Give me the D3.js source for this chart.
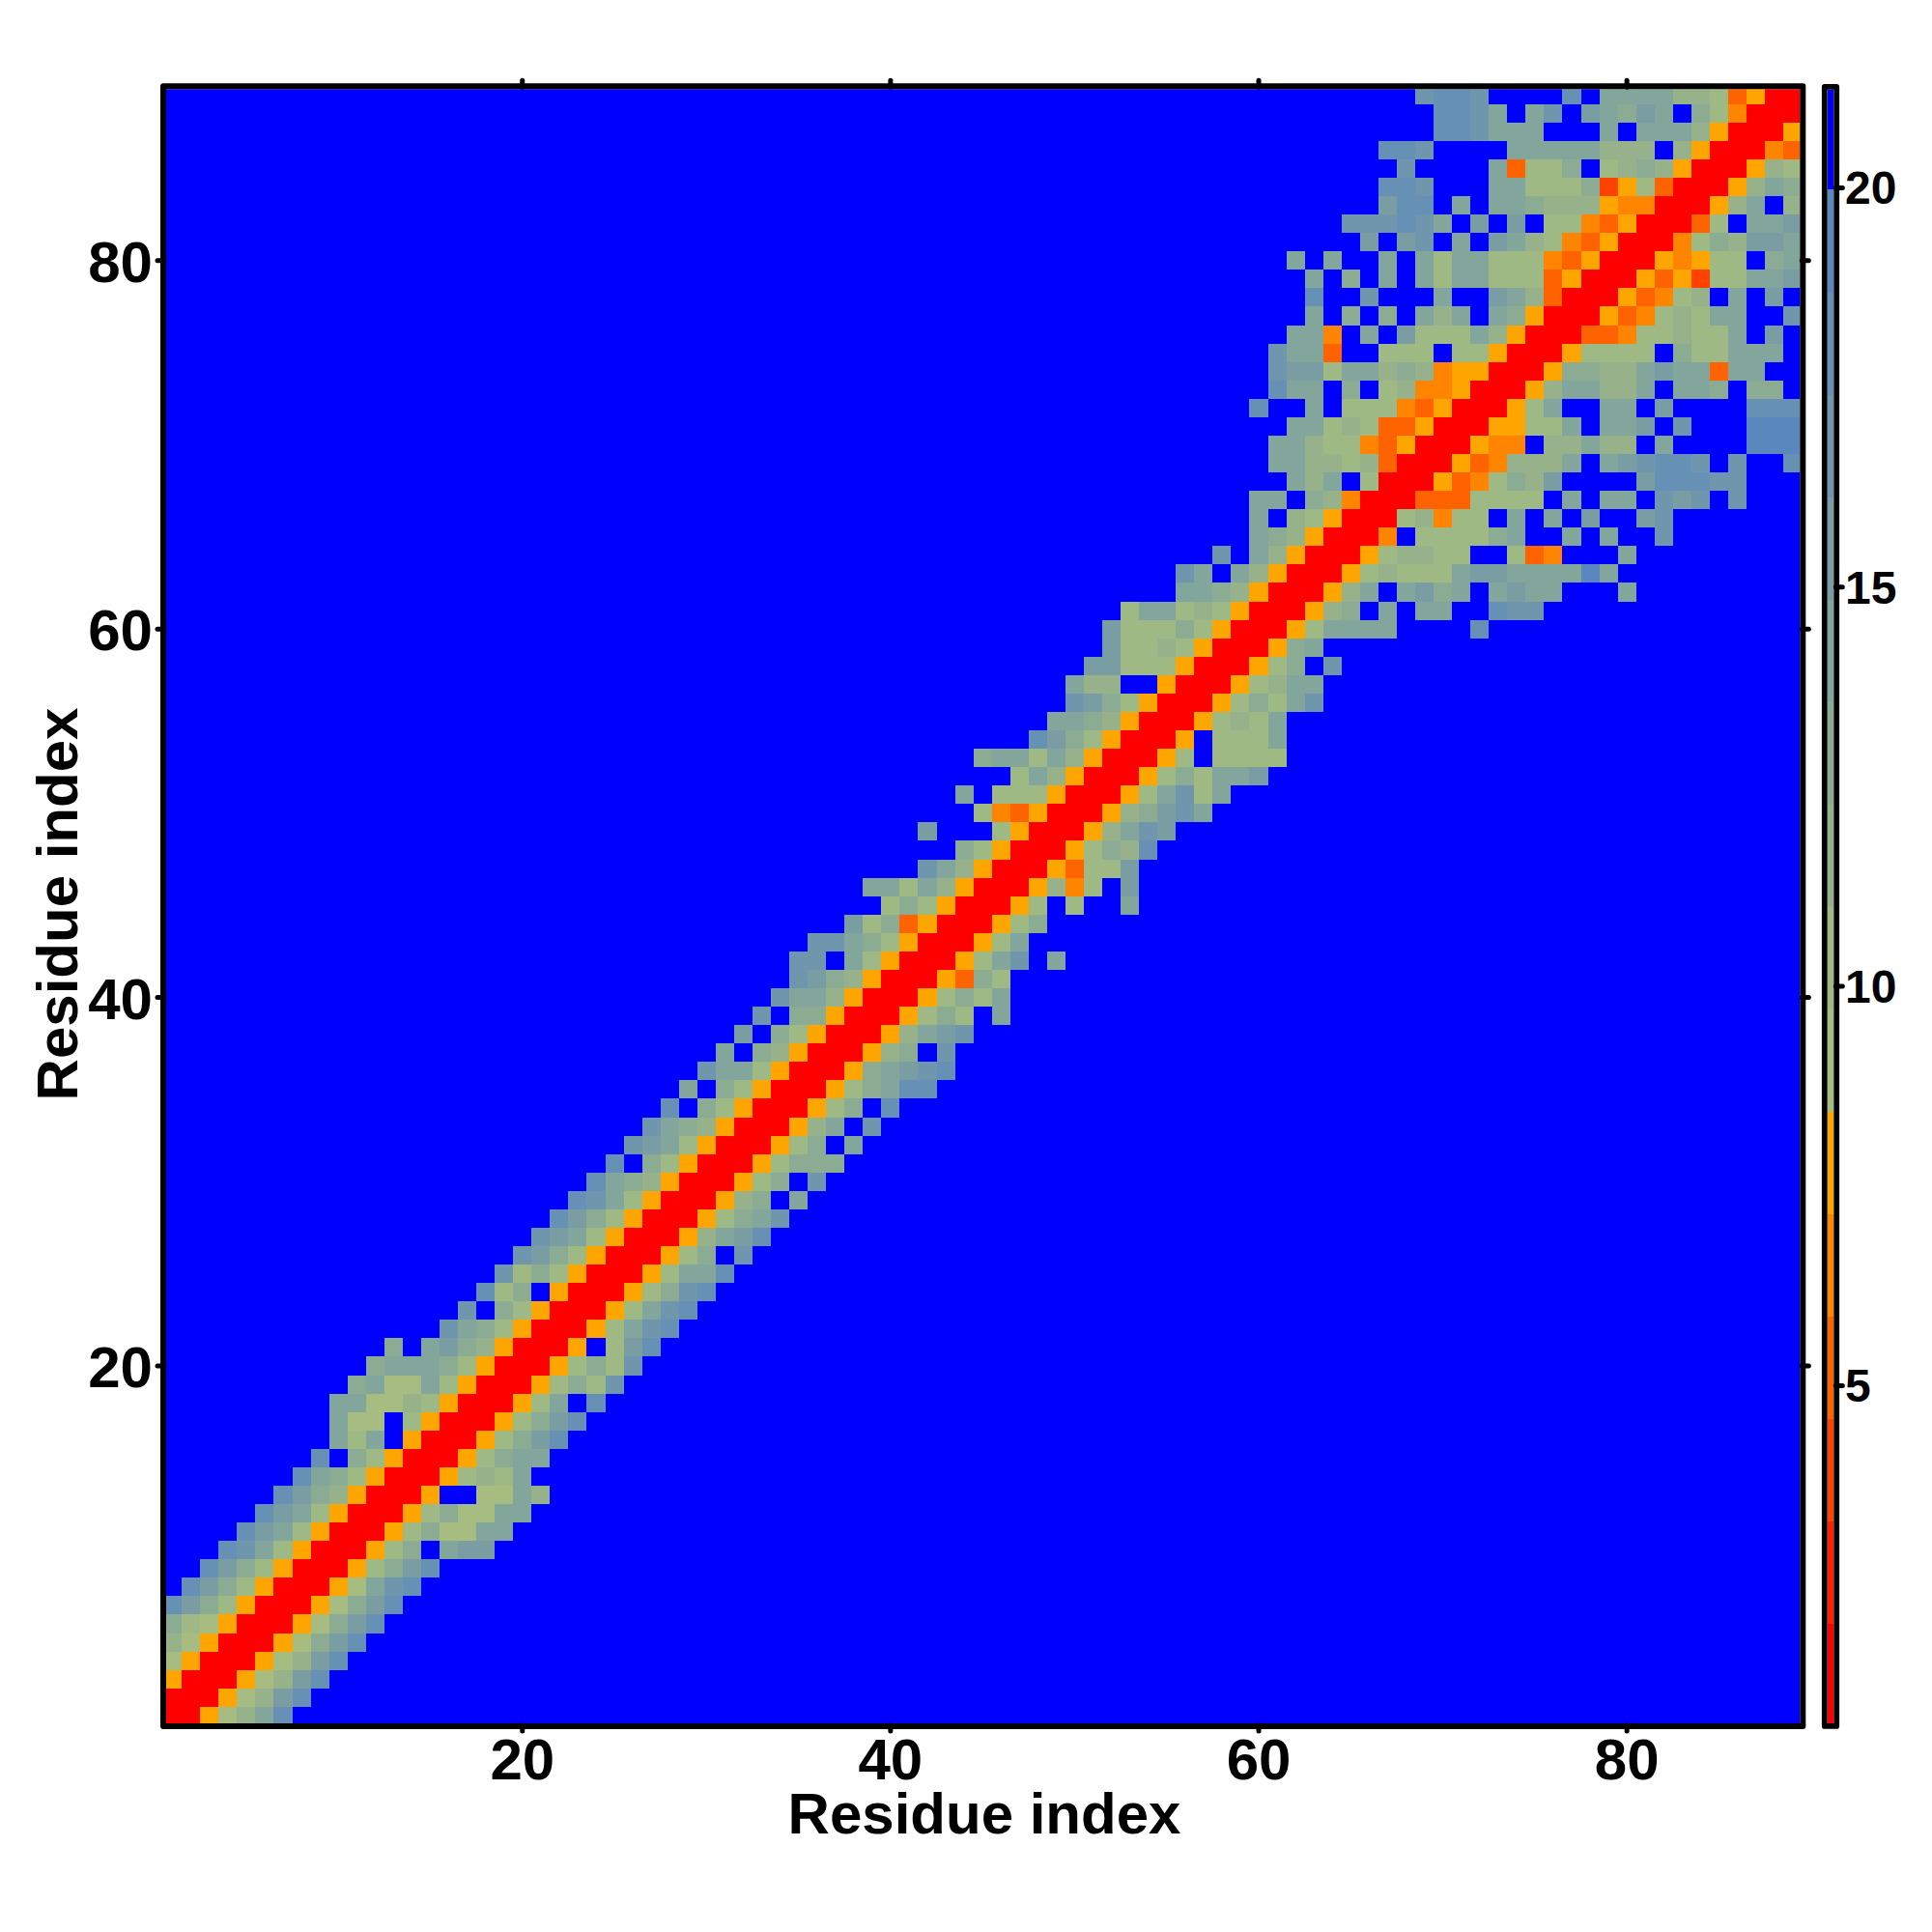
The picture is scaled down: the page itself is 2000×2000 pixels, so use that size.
<!DOCTYPE html>
<html><head><meta charset="utf-8">
<style>html,body{margin:0;padding:0;background:#fff}svg{display:block}text{font-family:"Liberation Sans",Arial,sans-serif;font-weight:bold;fill:#000}</style>
<script src="https://cdn.jsdelivr.net/npm/d3@7"></script>
</head><body><svg id="c" width="2000" height="2000"></svg>
<script>
const axisTicks=[20,40,60,80];
const barTicks=[5,10,15,20];
const axisTitle="Residue index";
const residueCount=89;
const barMin=0.73, barStep=1.283;
const bandColors=["#ff0000","#ff2100","#ff4200","#ff6300","#ff8400","#ffa500",
 "#a6bc80","#9fb985","#97b28b","#8cab93","#82a59c","#7a9da4","#7096ad","#6690b4","#5a88be","#0000ff"];
// first residue column with non-background data, per row (row 1 first)
const rowStart=[1,1,1,1,1,1,1,2,3,4,5,6,7,8,9,10,10,10,11,12,13,16,17,18,19,20,21,22,23,24,25,26,27,28,29,30,31,32,33,34,35,35,36,38,40,39,42,44,42,45,44,47,45,48,49,50,50,51,52,52,53,56,56,58,60,60,60,62,61,61,62,60,61,61,61,62,63,63,63,62,66,65,67,67,68,67,70,70,69];
// distance bands (0 red ... f background blue), hex digit per column from rowStart
const rowBands=["00568ad","000568bd","5000568bd","65000568bd","865000569bd","9765000569bd","db975000569bd","db97500056acd","db975000579bd","dca75000579fabb","dba7500057966aa","dba7500057966aa","db9850005ff66a8","da9750005787a","df975000579aa","a7af5000579bd","a66f75000579bd","aa6687500057afd","9a66a750005797c","9aaa9750005797c","9fab9850005f7bd","ca97500057acd","cf97500057acd","d79f5000579cd","c797500057aad","cb975000579fc","cba7500058abd","db975000579ac","dca75000589fa","da985000579fc","df97500057999","cba75000579fa","ca98500058afc","df975000579fd","af975000579add","caa7500059abcd","af985000589fc","bf97500058abc","cf9950005797fa","caa850005797a","cb9850005397","ccfa7500057acfa","cca97500057a","b7935000579","797500057f7ffa","aa7a850005847fb","ca850005377b","9750005798d","bfff7500058acb","7435000589bca","af777500057ac7a","7a850005797aab","9aa7a8500057f7777","db9750005f777a","aa9850005787a","cb9750005797ac","a88ff5000578aa","bb7775000579fc","b7787500059a","b77797500057aaaaffffd","7aa7875000589fafaaffdcc","aa98500058afab9afabaafffa","cafa85000578777abbaaaaea","cfa85000578877ff734fffa","a9850004f77779affafaffc","af87500078477fafafbffbc","aaf9840003337777fafaafcbcfc","a8af7000534798bffffbdddcc","aa88783000534888afabcddcfcffd","aa877435000544f88a88faffffeee","aa7873350005577afaabfcfffeee","dffaf77743500057affaafbffffddd","daaf9f7844500058aa88afaa9f99f","cbb7aa89845500059988abaa3aaff","caa3ff777f77500057777f977aaaf","aa4fafb777a8500033477877afbf","af9f9fa8afa95000534787aaffc","dffcfffaffba8300053478fafbf","af9fafa7aa77735000535277aab","afaffafa7aa77743500054577f9a","bfbcfafba874350004798bba","cccdcafbfbf7743500037faab","bddfafaa988854400058af8","ddcfffaa7779257300058a9","cffffa3779f78985000587","ddcffffaaaaa888f8500043","ddcaaafffafaaa850005","ddcafacfba9baf974000","cddcffffdfaaaa8873500"];

const frame={l:172,r:1863.3,t:92.2,b:1784};
const bar={l:1891.7,r:1898.3,t:92.7,b:1784};
const frameW=6, barW=5.8;
const svg=d3.select("#c");
const x=d3.scaleLinear().domain([0.65,89.4]).range([frame.l,frame.r]);
const y=d3.scaleLinear().domain([0.6,89.31]).range([frame.b,frame.t]);
const yb=d3.scaleLinear().domain([5,20]).range([1434.4,194.4]);
const color=d3.scaleQuantize().domain([barMin,barMin+16*barStep]).range(bandColors);
const bandValue=b=>barMin+barStep*(b+0.5);

const cells=[];
for(let r=1;r<=residueCount;r++){
  const s=rowStart[r-1], str=rowBands[r-1];
  for(let c=1;c<=residueCount;c++){
    const k=c-s;
    const band=(k>=0&&k<str.length)?parseInt(str[k],16):15;
    cells.push({r,c,v:bandValue(band)});
  }
}
const defs=svg.append("defs");
defs.append("clipPath").attr("id","cp").append("rect").attr("x",frame.l).attr("y",frame.t).attr("width",frame.r-frame.l).attr("height",frame.b-frame.t);
defs.append("clipPath").attr("id","cb").append("rect").attr("x",bar.l).attr("y",bar.t).attr("width",bar.r-bar.l).attr("height",bar.b-bar.t);

svg.append("g").attr("clip-path","url(#cp)").attr("shape-rendering","crispEdges")
 .selectAll("rect").data(cells).join("rect")
 .attr("x",d=>x(d.c-0.5)).attr("y",d=>y(d.r+0.5))
 .attr("width",d=>x(d.c+0.5)-x(d.c-0.5)).attr("height",d=>y(d.r-0.5)-y(d.r+0.5))
 .attr("fill",d=>color(d.v));

const tick=(x1,y1,x2,y2,w)=>svg.append("line").attr("x1",x1).attr("y1",y1).attr("x2",x2).attr("y2",y2)
  .attr("stroke","#000").attr("stroke-width",w).attr("stroke-linecap","round");

axisTicks.forEach(v=>{
  tick(x(v),frame.b+2,x(v),frame.b+8,5);
  tick(x(v),frame.t-2,x(v),frame.t-9,5);
  tick(frame.l-2,y(v),frame.l-9,y(v),5);
  tick(frame.r+2,y(v),frame.r+9,y(v),5);
  svg.append("text").attr("x",x(v)).attr("y",1842).attr("text-anchor","middle").attr("font-size",60).text(v);
  svg.append("text").attr("x",158).attr("y",y(v)+22).attr("text-anchor","end").attr("font-size",60).text(v);
});
svg.append("rect").attr("x",frame.l-frameW/2).attr("y",frame.t-frameW/2)
  .attr("width",frame.r-frame.l+frameW).attr("height",frame.b-frame.t+frameW)
  .attr("fill","none").attr("stroke","#000").attr("stroke-width",frameW).attr("stroke-linejoin","round");

svg.append("text").attr("x",1019).attr("y",1898).attr("text-anchor","middle").attr("font-size",60).text(axisTitle);
svg.append("text").attr("transform","translate(80,936) rotate(-90)").attr("text-anchor","middle").attr("font-size",60).text(axisTitle);

// colour bar
svg.append("g").attr("clip-path","url(#cb)").attr("shape-rendering","crispEdges")
 .selectAll("rect").data(bandColors).join("rect")
 .attr("x",bar.l).attr("width",bar.r-bar.l)
 .attr("y",(d,i)=>yb(barMin+barStep*(i+1)))
 .attr("height",barStep*(yb(0)-yb(1)))
 .attr("fill",d=>d);
barTicks.forEach(v=>{
  tick(bar.r+2,yb(v),bar.r+9,yb(v),5);
  svg.append("text").attr("x",1910).attr("y",yb(v)+17).attr("font-size",48).text(v);
});
svg.append("rect").attr("x",bar.l-barW/2).attr("y",bar.t-barW/2)
  .attr("width",bar.r-bar.l+barW).attr("height",bar.b-bar.t+barW)
  .attr("fill","none").attr("stroke","#000").attr("stroke-width",barW).attr("stroke-linejoin","round");
</script></body></html>
